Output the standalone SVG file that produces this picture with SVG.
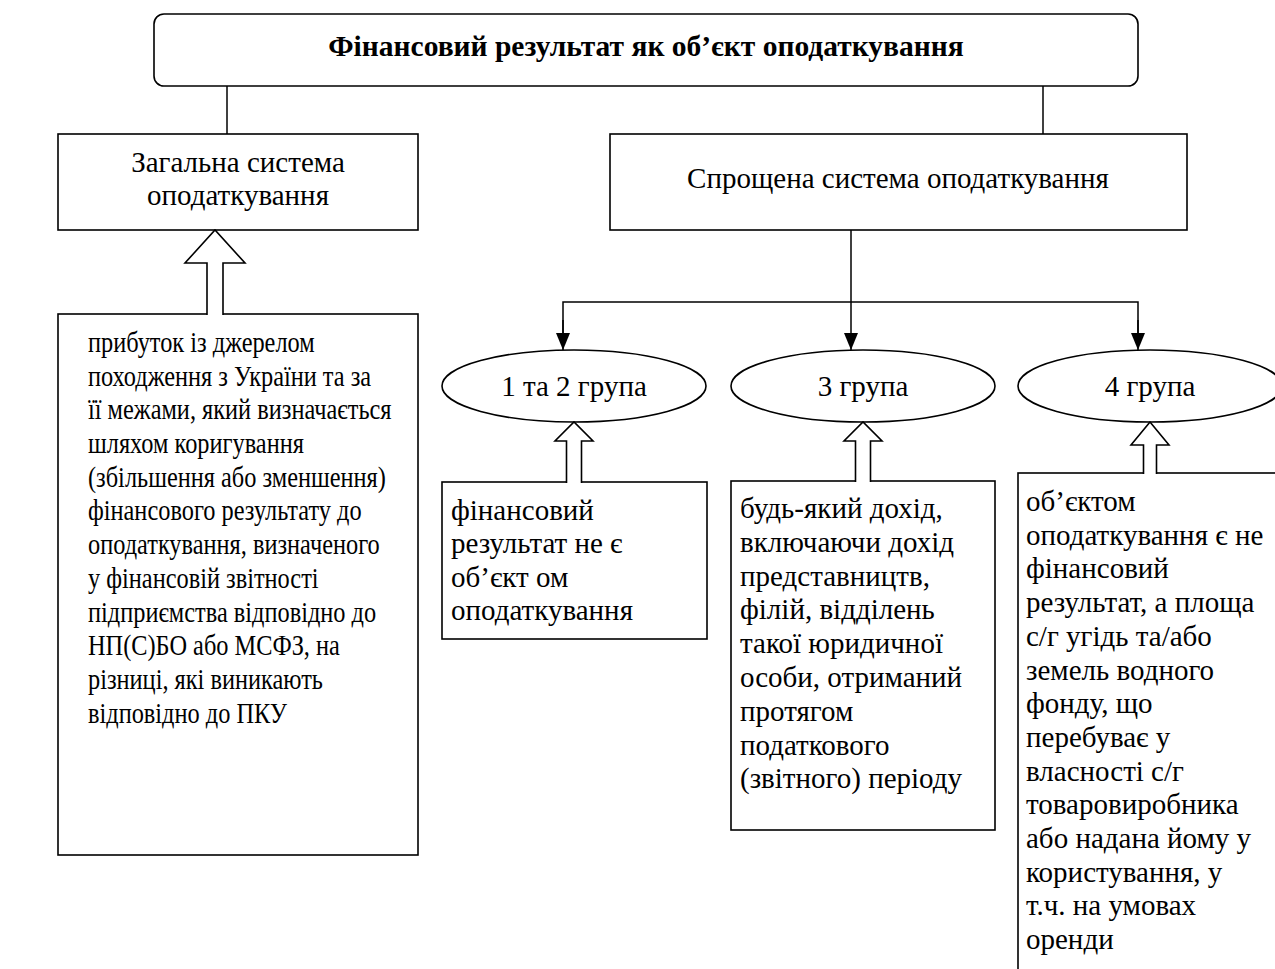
<svg xmlns="http://www.w3.org/2000/svg" width="1275" height="969" viewBox="0 0 1275 969">
<defs>
<style>
.box{fill:#fff;stroke:#000;stroke-width:1.6}
.ln{fill:none;stroke:#000;stroke-width:1.5}
.ha{fill:#fff;stroke:#000;stroke-width:1.6;stroke-linejoin:miter}
text{font-family:"Liberation Serif","Times New Roman",serif;font-size:29px;fill:#000}
.c{text-anchor:middle}
.b{font-weight:bold;font-size:29.5px}
</style>
<marker id="ah" markerWidth="17" markerHeight="14" refX="17" refY="7" orient="auto" markerUnits="userSpaceOnUse" viewBox="0 0 17 14">
<path d="M0,0 L17,7 L0,14 Z" fill="#000"/>
</marker>
</defs>
<rect width="1275" height="969" fill="#fff"/>

<g id="connectors">
<line class="ln" x1="227" y1="86" x2="227" y2="134"/>
<line class="ln" x1="1043" y1="86" x2="1043" y2="134"/>
<line class="ln" x1="851" y1="230" x2="851" y2="350" marker-end="url(#ah)"/>
<polyline class="ln" points="563,340 563,302 1138,302 1138,340"/>
<line class="ln" x1="563" y1="320" x2="563" y2="350" marker-end="url(#ah)"/>
<line class="ln" x1="1138" y1="320" x2="1138" y2="350" marker-end="url(#ah)"/>
</g>

<g id="title">
<rect class="box" x="154" y="14" width="984" height="72" rx="10" ry="10"/>
<text class="c b" x="646" y="56">Фінансовий результат як об’єкт оподаткування</text>
</g>

<g id="general">
<rect class="box" x="58" y="134" width="360" height="96"/>
<text class="c" x="238" y="172">Загальна система</text>
<text class="c" x="238" y="205">оподаткування</text>
</g>

<g id="simplified">
<rect class="box" x="610" y="134" width="577" height="96"/>
<text class="c" x="898" y="188">Спрощена система оподаткування</text>
</g>

<g id="group12">
<ellipse class="box" cx="574" cy="386" rx="132" ry="36"/>
<text class="c" x="574" y="396">1 та 2 група</text>
</g>
<g id="group3">
<ellipse class="box" cx="863" cy="386" rx="132" ry="36"/>
<text class="c" x="863" y="396">3 група</text>
</g>
<g id="group4">
<ellipse class="box" cx="1150" cy="386" rx="132" ry="36"/>
<text class="c" x="1150" y="396">4 група</text>
</g>

<g id="general-desc">
<rect class="box" x="58" y="314" width="360" height="541"/>
<path class="ha" d="M207,315 L207,263 L185,263 L215,230 L245,263 L223,263 L223,315"/>
<g transform="matrix(0.84 0 0 1 88 0)">
<text x="0" y="352">прибуток із джерелом</text>
<text x="0" y="385.7">походження з України та за</text>
<text x="0" y="419.4">її межами, який визначається</text>
<text x="0" y="453.1">шляхом коригування</text>
<text x="0" y="486.8">(збільшення або зменшення)</text>
<text x="0" y="520.5">фінансового результату до</text>
<text x="0" y="554.2">оподаткування, визначеного</text>
<text x="0" y="587.9">у фінансовій звітності</text>
<text x="0" y="621.6">підприємства відповідно до</text>
<text x="0" y="655.3">НП(С)БО або МСФЗ, на</text>
<text x="0" y="689">різниці, які виникають</text>
<text x="0" y="722.7">відповідно до ПКУ</text>
</g>
</g>

<g id="group12-desc">
<rect class="box" x="442" y="482" width="265" height="157"/>
<path class="ha" d="M566.5,483 L566.5,441 L555,441 L574,422 L593,441 L581.5,441 L581.5,483"/>
<text x="451" y="520">фінансовий</text>
<text x="451" y="553.3">результат не є</text>
<text x="451" y="586.6">об’єкт ом</text>
<text x="451" y="620">оподаткування</text>
</g>

<g id="group3-desc">
<rect class="box" x="731" y="481" width="264" height="349"/>
<path class="ha" d="M855.5,482 L855.5,441 L844,441 L863,422 L882,441 L870.5,441 L870.5,482"/>
<text x="740" y="518">будь-який дохід,</text>
<text x="740" y="551.8">включаючи дохід</text>
<text x="740" y="585.6">представництв,</text>
<text x="740" y="619.4">філій, відділень</text>
<text x="740" y="653.2">такої юридичної</text>
<text x="740" y="687">особи, отриманий</text>
<text x="740" y="720.8">протягом</text>
<text x="740" y="754.6">податкового</text>
<text x="740" y="788.4">(звітного) періоду</text>
</g>

<g id="group4-desc">
<rect class="box" x="1018" y="473" width="280" height="520"/>
<path class="ha" d="M1143.5,474 L1143.5,445 L1131,445 L1150,422 L1169,445 L1156.5,445 L1156.5,474"/>
<text x="1026" y="511">об’єктом</text>
<text x="1026" y="544.7">оподаткування є не</text>
<text x="1026" y="578.4">фінансовий</text>
<text x="1026" y="612.1">результат, а площа</text>
<text x="1026" y="645.8">с/г угідь та/або</text>
<text x="1026" y="679.5">земель водного</text>
<text x="1026" y="713.2">фонду, що</text>
<text x="1026" y="746.9">перебуває у</text>
<text x="1026" y="780.6">власності с/г</text>
<text x="1026" y="814.3">товаровиробника</text>
<text x="1026" y="848">або надана йому у</text>
<text x="1026" y="881.7">користування, у</text>
<text x="1026" y="915.4">т.ч. на умовах</text>
<text x="1026" y="949.1">оренди</text>
</g>
</svg>
